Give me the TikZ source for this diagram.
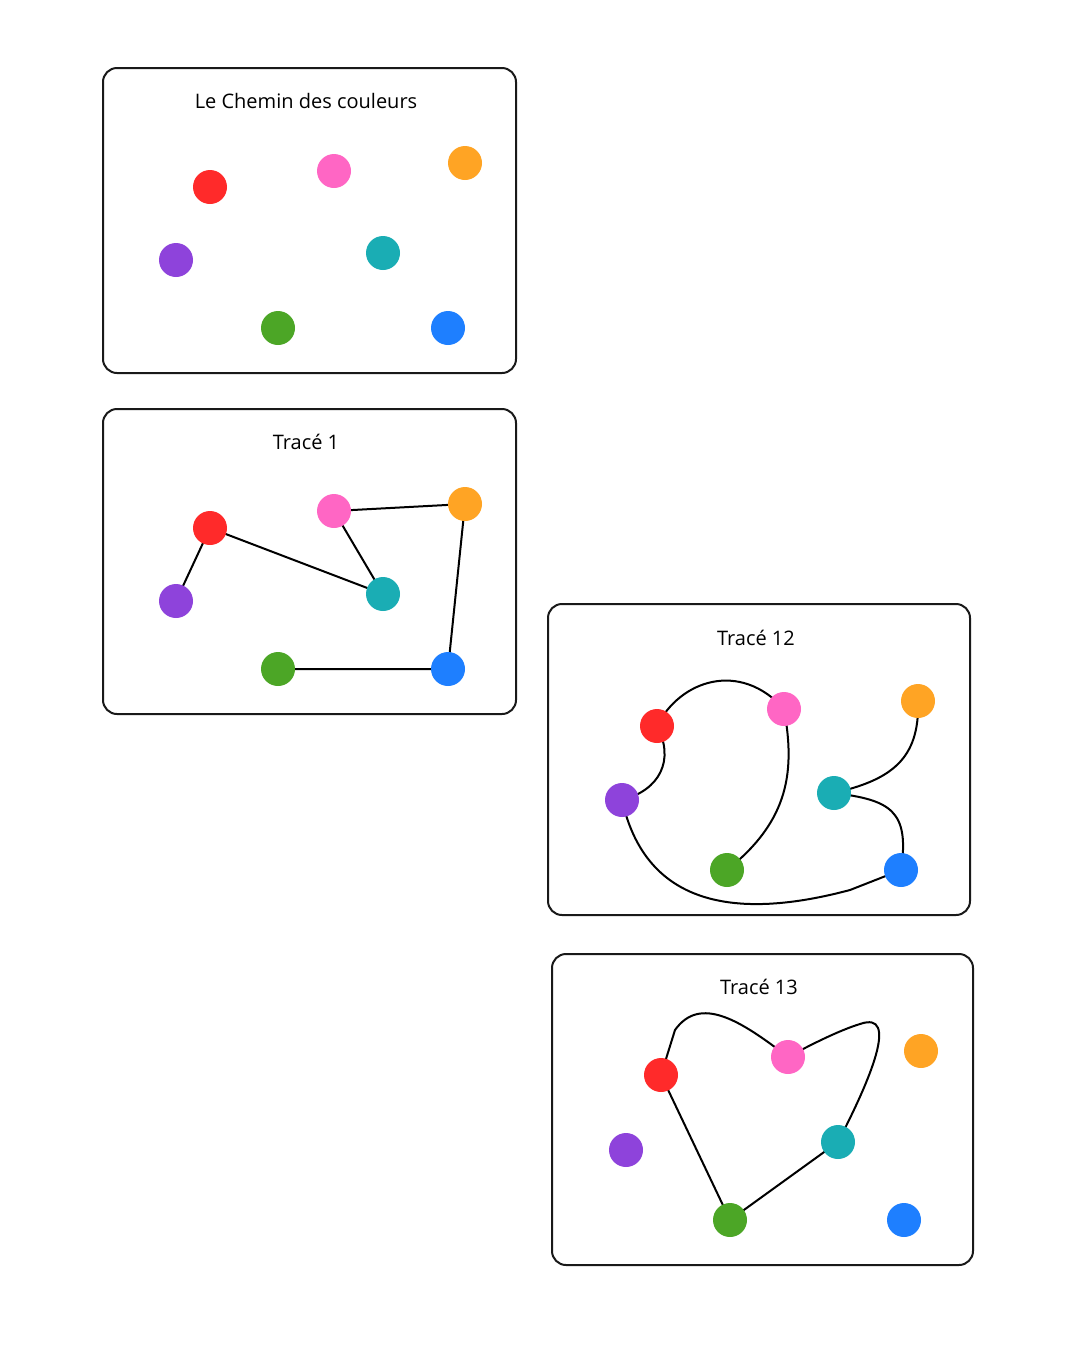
\documentclass[tikz,border=0pt]{standalone}
\usepackage{fontspec}
\setmainfont{Open Sans}
\definecolor{cred}{HTML}{FF2A2A}
\definecolor{cpink}{HTML}{FF66C4}
\definecolor{corange}{HTML}{FFA424}
\definecolor{cpurple}{HTML}{8E43DB}
\definecolor{cteal}{HTML}{1AADB4}
\definecolor{cgreen}{HTML}{4CA626}
\definecolor{cblue}{HTML}{1E7FFF}
\begin{document}
\begin{tikzpicture}[x=1pt,y=-1pt,
  panel/.style={draw=black!90,line width=2pt,rounded corners=14pt},
  dot/.style={circle,fill=#1,minimum size=34pt,inner sep=0pt},
  ttl/.style={font=\fontsize{20}{24}\selectfont},
  edge/.style={line width=2pt,black}]
\useasboundingbox (0,0) rectangle (1080,1350);
% panel 1
\draw[panel] (103,68) rectangle (516,373);
\node[ttl] (t1) at (306,101) {Le Chemin des couleurs};
\node[dot=cred] (r1) at (210,187) {};
\node[dot=cpink] (p1) at (334,171) {};
\node[dot=corange] (o1) at (465,163) {};
\node[dot=cpurple] (v1) at (176,260) {};
\node[dot=cteal] (c1) at (383,253) {};
\node[dot=cgreen] (g1) at (278,328) {};
\node[dot=cblue] (b1) at (448,328) {};
% panel 2
\draw[panel] (103,409) rectangle (516,714);
\node[ttl] (t2) at (306,442) {Tracé 1};
\coordinate (R2) at (210,528); \coordinate (P2) at (334,511);
\coordinate (O2) at (465,504); \coordinate (V2) at (176,601);
\coordinate (C2) at (383,594); \coordinate (G2) at (278,669);
\coordinate (B2) at (448,669);
\draw[edge] (V2) -- (R2) -- (C2) -- (P2) -- (O2) -- (B2) -- (G2);
\node[dot=cred] (r2) at (R2) {};
\node[dot=cpink] (p2) at (P2) {};
\node[dot=corange] (o2) at (O2) {};
\node[dot=cpurple] (v2) at (V2) {};
\node[dot=cteal] (c2) at (C2) {};
\node[dot=cgreen] (g2) at (G2) {};
\node[dot=cblue] (b2) at (B2) {};
% panel 3
\draw[panel] (548,604) rectangle (970,915);
\node[ttl] (t3) at (756,638) {Tracé 12};
\coordinate (R3) at (657,726); \coordinate (P3) at (784,709);
\coordinate (O3) at (918,701); \coordinate (V3) at (622,800);
\coordinate (C3) at (834,793); \coordinate (G3) at (727,870);
\coordinate (B3) at (901,870);
\draw[edge] (R3) .. controls (680,680) and (740,660) .. (P3);
\draw[edge] (P3) .. controls (795,770) and (790,820) .. (G3);
\draw[edge] (R3) .. controls (675,760) and (660,790) .. (V3);
\draw[edge] (V3) .. controls (640,880) and (700,930) .. (850,890) -- (B3);
\draw[edge] (B3) .. controls (910,810) and (890,800) .. (C3);
\draw[edge] (C3) .. controls (890,780) and (920,760) .. (O3);
\node[dot=cred] (r3) at (R3) {};
\node[dot=cpink] (p3) at (P3) {};
\node[dot=corange] (o3) at (O3) {};
\node[dot=cpurple] (v3) at (V3) {};
\node[dot=cteal] (c3) at (C3) {};
\node[dot=cgreen] (g3) at (G3) {};
\node[dot=cblue] (b3) at (B3) {};
% panel 4
\draw[panel] (552,954) rectangle (973,1265);
\node[ttl] (t4) at (759,987) {Tracé 13};
\coordinate (R4) at (661,1075); \coordinate (P4) at (788,1057);
\coordinate (O4) at (921,1051); \coordinate (V4) at (626,1150);
\coordinate (C4) at (838,1142); \coordinate (G4) at (730,1220);
\coordinate (B4) at (904,1220);
\draw[edge] (R4) -- (G4) -- (C4);
\draw[edge] (C4) .. controls (870,1080) and (900,1010) .. (860,1024) .. controls (840,1030) and (810,1045) .. (P4);
\draw[edge] (P4) .. controls (740,1020) and (700,995) .. (675,1030) -- (R4);
\node[dot=cred] (r4) at (R4) {};
\node[dot=cpink] (p4) at (P4) {};
\node[dot=corange] (o4) at (O4) {};
\node[dot=cpurple] (v4) at (V4) {};
\node[dot=cteal] (c4) at (C4) {};
\node[dot=cgreen] (g4) at (G4) {};
\node[dot=cblue] (b4) at (B4) {};
\end{tikzpicture}
\end{document}
